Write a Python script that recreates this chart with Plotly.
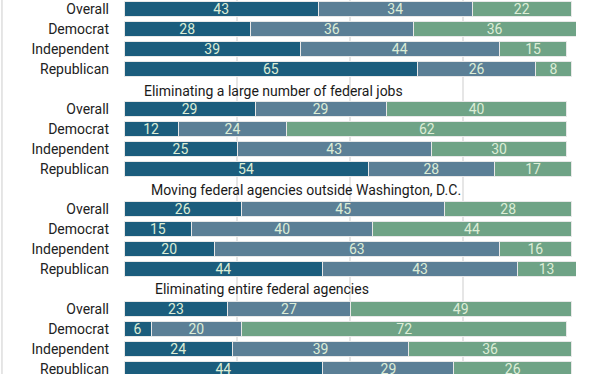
import plotly.graph_objects as go

# ---- data ----
groups = [
    "",  # title of first group is above the visible area
    "Eliminating a large number of federal jobs",
    "Moving federal agencies outside Washington, D.C.",
    "Eliminating entire federal agencies",
]
rows = ["Overall", "Democrat", "Independent", "Republican"]
series_names = ["Support", "Neither", "Oppose"]
support = [43, 28, 39, 65,  29, 12, 25, 54,  26, 15, 20, 44,  23, 6, 24, 44]
neither = [34, 36, 44, 26,  29, 24, 43, 28,  45, 40, 63, 43,  27, 20, 39, 29]
oppose  = [22, 36, 15, 8,   40, 62, 30, 17,  28, 44, 16, 13,  49, 72, 36, 26]

colors = ["#1b5d7d", "#5b7f96", "#6fa386"]
text_color = "#dcedd6"

# positions: each group = title slot + 4 rows
ypos, ylabels = [], []
for g in range(len(groups)):
    for r, name in enumerate(rows):
        ypos.append(g * 5 + 1 + r)
        ylabels.append(name)

fig = go.Figure()
for name, vals, col in zip(series_names, [support, neither, oppose], colors):
    fig.add_trace(go.Bar(
        x=vals, y=ypos, orientation="h", name=name,
        marker=dict(color=col, line=dict(color="#e8e8e8", width=1)),
        text=[str(v) for v in vals], textposition="inside",
        insidetextanchor="middle", textangle=0,
        textfont=dict(family="Roboto", size=14, color=text_color),
        hoverinfo="skip",
    ))

title_x = [None, 4.0, 5.5, 6.5]
title_shift = [0, -2, -1, 0]
for g, t in enumerate(groups):
    if not t:
        continue
    fig.add_annotation(x=title_x[g], y=g * 5, xref="x", yref="y", text=t,
                       showarrow=False, xanchor="left", yanchor="middle",
                       yshift=title_shift[g],
                       font=dict(family="Roboto", size=14, color="#1a1a1a"))

fig.add_shape(type="line", xref="paper", yref="paper",
              x0=-0.2700, x1=-0.2700, y0=0, y1=1,
              line=dict(color="#dddddd", width=1.5))

fig.update_layout(
    width=612, height=374,
    margin=dict(l=124, r=36, t=0, b=0, autoexpand=False),
    barmode="stack", bargap=0.25,
    showlegend=False,
    plot_bgcolor="white", paper_bgcolor="white",
    uniformtext=dict(minsize=8, mode="show"),
    xaxis=dict(range=[0, 100], dtick=25, tick0=0, showgrid=True,
               gridcolor="#e6e6e6", gridwidth=1.5, zeroline=False,
               showticklabels=False, fixedrange=True, automargin=False),
    yaxis=dict(range=[19.25, 0.55], tickvals=ypos, ticktext=ylabels,
               showgrid=False, zeroline=False, ticks="", ticklabelstandoff=14,
               ticklabeloverflow="allow", automargin=False,
               tickfont=dict(family="Roboto", size=14, color="#222222")),
)

fig.write_html("out.html", config={"displayModeBar": False},
               post_script="document.body.style.margin='0';document.body.style.overflow='hidden';")
